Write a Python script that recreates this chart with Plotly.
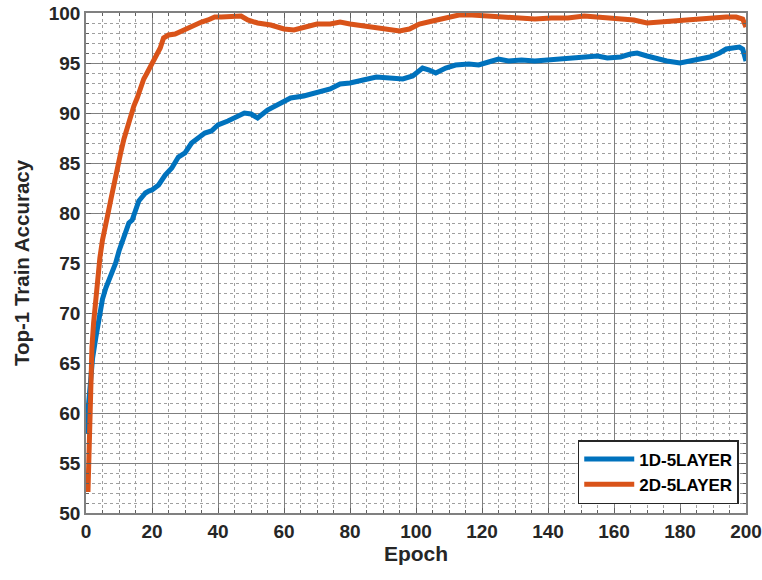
import plotly.graph_objects as go

# 1D-5LAYER (blue)
epoch_1d = [0, 1, 2, 3, 4, 5, 6, 7, 8, 9, 10, 11, 12, 13, 14, 15, 16, 17, 18, 19, 20, 22, 24, 26, 28, 30,
            32, 34, 36, 38, 40, 43, 46, 48, 50, 52, 55, 58, 62, 66, 70, 74, 77, 80, 84, 88, 92, 96, 99,
            102, 104, 106, 109, 112, 116, 119, 122, 125, 128, 132, 136, 140, 144, 148, 152, 155, 158, 162,
            165, 167, 170, 173, 176, 180, 183, 186, 189, 192, 194, 196, 198, 199, 200]
acc_1d = [58.0, 62.0, 65.5, 67.6, 69.6, 71.4, 72.5, 73.3, 74.3, 75.0, 76.2, 77.2, 78.2, 79.0, 79.3, 80.2, 81.2,
          81.6, 82.0, 82.2, 82.3, 82.8, 83.8, 84.5, 85.6, 86.0, 87.0, 87.5, 88.0, 88.2, 88.8, 89.2, 89.6,
          90.0, 89.9, 89.5, 90.3, 90.8, 91.5, 91.7, 92.1, 92.4, 92.9, 93.0, 93.3, 93.6, 93.5, 93.4, 93.7,
          94.5, 94.3, 94.0, 94.5, 94.8, 94.9, 94.8, 95.1, 95.4, 95.2, 95.3, 95.2, 95.3, 95.4, 95.5, 95.6,
          95.7, 95.5, 95.6, 95.9, 96.0, 95.7, 95.4, 95.2, 95.0, 95.2, 95.3, 95.6, 96.0, 96.4, 96.5, 96.6,
          96.4, 95.2]

# 2D-5LAYER (orange)
epoch_2d = [0.6, 1.0, 1.4, 1.8, 2.3, 2.8, 3.5, 4.2, 5.0, 5.8, 6.7, 7.5, 8.5, 9.5, 10.5, 11.5, 12.5, 13.5,
            14.5, 15.5, 16.5, 17.5, 18.5, 19.5, 20.5, 21.5, 22.5, 23.5, 25, 27, 29, 31, 33, 35, 37, 39,
            41, 43, 45, 47, 49, 52, 56, 60, 63, 66, 70, 74, 77, 80, 84, 88, 92, 95, 98, 101, 105, 109,
            113, 117, 121, 126, 131, 136, 141, 146, 151, 156, 161, 166, 170, 174, 178, 182, 186, 190,
            194, 197, 199, 200]
acc_2d = [52.1, 58.0, 63.3, 66.6, 69.0, 71.0, 73.5, 75.5, 77.3, 78.9, 80.0, 81.3, 83.0, 84.8, 86.0, 87.4,
          88.6, 89.7, 90.7, 91.5, 92.5, 93.4, 94.0, 94.6, 95.2, 95.8, 96.5, 97.5, 97.8, 97.9, 98.2, 98.5,
          98.9, 99.1, 99.3, 99.6, 99.6, 99.6, 99.7, 99.7, 99.3, 99.0, 98.8, 98.4, 98.3, 98.6, 98.9, 98.9,
          99.1, 98.9, 98.7, 98.5, 98.3, 98.2, 98.4, 98.9, 99.2, 99.5, 99.8, 99.8, 99.7, 99.6, 99.5, 99.4,
          99.5, 99.5, 99.7, 99.6, 99.4, 99.3, 99.0, 99.1, 99.3, 99.4, 99.4, 99.5, 99.6, 99.6, 99.4, 98.6]

x_ticks = [0, 20, 40, 60, 80, 100, 120, 140, 160, 180, 200]
y_ticks = [50, 55, 60, 65, 70, 75, 80, 85, 90, 95, 100]

BLUE = "#0072BD"
ORANGE = "#D95319"
FONT = "Liberation Sans, Arial, sans-serif"

fig = go.Figure()
fig.add_trace(go.Scatter(x=epoch_1d, y=acc_1d, mode="lines", name="1D-5LAYER",
                         line=dict(color=BLUE, width=5)))
fig.add_trace(go.Scatter(x=epoch_2d, y=acc_2d, mode="lines", name="2D-5LAYER",
                         line=dict(color=ORANGE, width=5)))

axis_common = dict(
    showline=True, linecolor="#808080", linewidth=1.5, mirror="ticks",
    showgrid=True, gridcolor="#7f7f7f", gridwidth=1,
    ticks="inside", ticklen=5, tickcolor="#606060",
    zeroline=False, automargin=False,
    tickfont=dict(family=FONT, size=19, color="#262626", weight="bold"),
)

fig.update_xaxes(range=[0, 200], tickvals=x_ticks, ticktext=[str(v) for v in x_ticks],
                 title=dict(text="Epoch", font=dict(family=FONT, size=21, color="#262626", weight="bold"),
                            standoff=6),
                 minor=dict(dtick=5, showgrid=True, gridcolor="#a0a0a0", griddash="dot", gridwidth=1,
                            ticks="inside", ticklen=3, tickcolor="#606060"),
                 **axis_common)
fig.update_yaxes(range=[50, 100], tickvals=y_ticks, ticktext=[str(v) for v in y_ticks],
                 title=dict(text="Top-1 Train Accuracy",
                            font=dict(family=FONT, size=20.5, color="#262626", weight="bold"), standoff=14),
                 minor=dict(dtick=1, showgrid=True, gridcolor="#a0a0a0", griddash="dot", gridwidth=1,
                            ticks="inside", ticklen=3, tickcolor="#606060"),
                 **axis_common)

fig.update_layout(
    width=762, height=580,
    margin=dict(l=86, r=16, t=13, b=67),
    paper_bgcolor="white", plot_bgcolor="white",
    showlegend=True,
    legend=dict(x=0.989, y=0.018, xanchor="right", yanchor="bottom",
                bgcolor="white", bordercolor="#262626", borderwidth=1.5,
                font=dict(family=FONT, size=17, color="#000000", weight="bold"),
                tracegroupgap=0, itemwidth=50),
)

fig.write_html("out.html")
